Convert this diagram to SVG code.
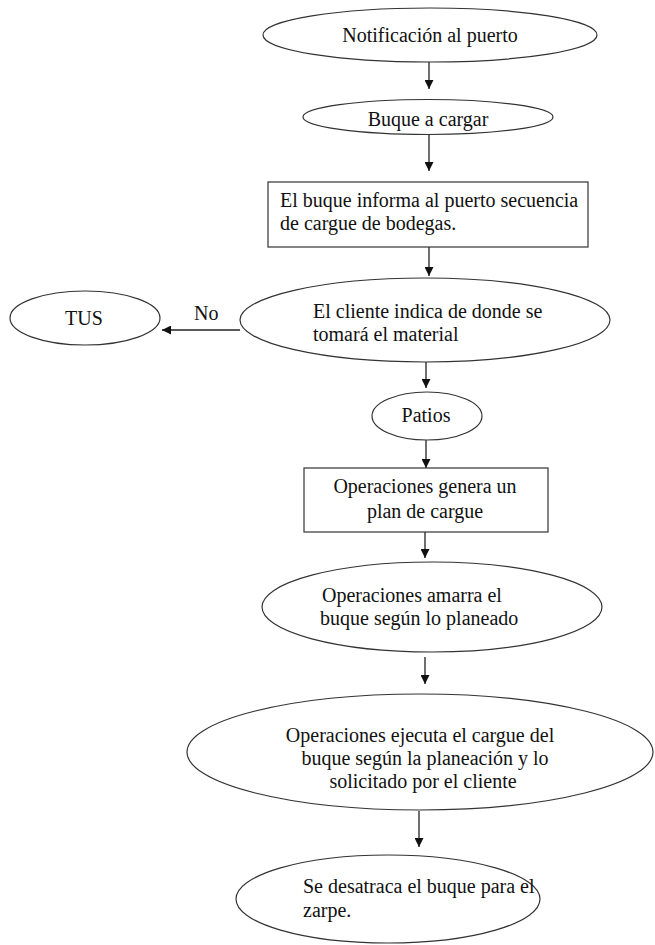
<svg xmlns="http://www.w3.org/2000/svg" width="655" height="945" viewBox="0 0 655 945">
  <style>
    .shape { fill: #ffffff; stroke: #333333; stroke-width: 1.2; }
    .lbl { font-family: "Liberation Serif", "DejaVu Serif", serif; font-size: 20px; fill: #111111; }
    .mid { text-anchor: middle; }
    .edge { stroke: #222222; stroke-width: 1.3; fill: none; marker-end: url(#arrow); }
  </style>
  <defs>
    <marker id="arrow" viewBox="0 0 10 10" refX="10" refY="5" markerWidth="9" markerHeight="9" markerUnits="userSpaceOnUse" orient="auto">
      <path d="M0,0 L10,5 L0,10 z" fill="#111111"/>
    </marker>
  </defs>
  <rect width="655" height="945" fill="#ffffff"/>

  <!-- connectors -->
  <g id="connectors">
    <line class="edge" x1="429" y1="62" x2="429" y2="89"/>
    <line class="edge" x1="429" y1="135" x2="429" y2="171"/>
    <line class="edge" x1="429" y1="247" x2="429" y2="276"/>
    <line class="edge" x1="240" y1="330" x2="162" y2="330"/>
    <line class="edge" x1="426" y1="362" x2="426" y2="388"/>
    <line class="edge" x1="426" y1="440" x2="426" y2="468"/>
    <line class="edge" x1="425" y1="532" x2="425" y2="558"/>
    <line class="edge" x1="425" y1="657" x2="425" y2="684"/>
    <line class="edge" x1="419" y1="811" x2="419" y2="847"/>
    <text class="lbl" x="194" y="320">No</text>
  </g>

  <g id="notificacion">
    <ellipse class="shape" cx="430" cy="35" rx="167" ry="27"/>
    <text class="lbl mid" x="430" y="42">Notificación al puerto</text>
  </g>

  <g id="buque-cargar">
    <ellipse class="shape" cx="428" cy="117" rx="125" ry="17.5"/>
    <text class="lbl mid" x="428" y="126">Buque a cargar</text>
  </g>

  <g id="secuencia">
    <rect class="shape" x="268" y="182" width="320" height="65"/>
    <text class="lbl" x="280" y="207">El buque informa al puerto secuencia</text>
    <text class="lbl" x="280" y="230">de cargue de bodegas.</text>
  </g>

  <g id="cliente">
    <ellipse class="shape" cx="425" cy="320" rx="185" ry="42"/>
    <text class="lbl" x="313" y="318">El cliente indica de donde se</text>
    <text class="lbl" x="313" y="341">tomará el material</text>
  </g>

  <g id="tus">
    <ellipse class="shape" cx="85" cy="318" rx="75" ry="27"/>
    <text class="lbl mid" x="84" y="325">TUS</text>
  </g>

  <g id="patios">
    <ellipse class="shape" cx="427" cy="416" rx="55" ry="24"/>
    <text class="lbl mid" x="426" y="422">Patios</text>
  </g>

  <g id="plan">
    <rect class="shape" x="304" y="468" width="244" height="64"/>
    <text class="lbl mid" x="425" y="493">Operaciones genera un</text>
    <text class="lbl mid" x="425" y="518">plan de cargue</text>
  </g>

  <g id="amarra">
    <ellipse class="shape" cx="432" cy="607" rx="170" ry="45"/>
    <text class="lbl" x="322" y="602">Operaciones amarra el</text>
    <text class="lbl" x="320" y="625">buque según lo planeado</text>
  </g>

  <g id="ejecuta">
    <ellipse class="shape" cx="420" cy="752" rx="233" ry="58"/>
    <text class="lbl mid" x="420" y="742">Operaciones ejecuta el cargue del</text>
    <text class="lbl mid" x="425" y="765">buque según la planeación y lo</text>
    <text class="lbl mid" x="423" y="788">solicitado por el cliente</text>
  </g>

  <g id="desatraca">
    <ellipse class="shape" cx="388" cy="899" rx="152" ry="44"/>
    <text class="lbl" x="303" y="893">Se desatraca el buque para el</text>
    <text class="lbl" x="303" y="917">zarpe.</text>
  </g>
</svg>
